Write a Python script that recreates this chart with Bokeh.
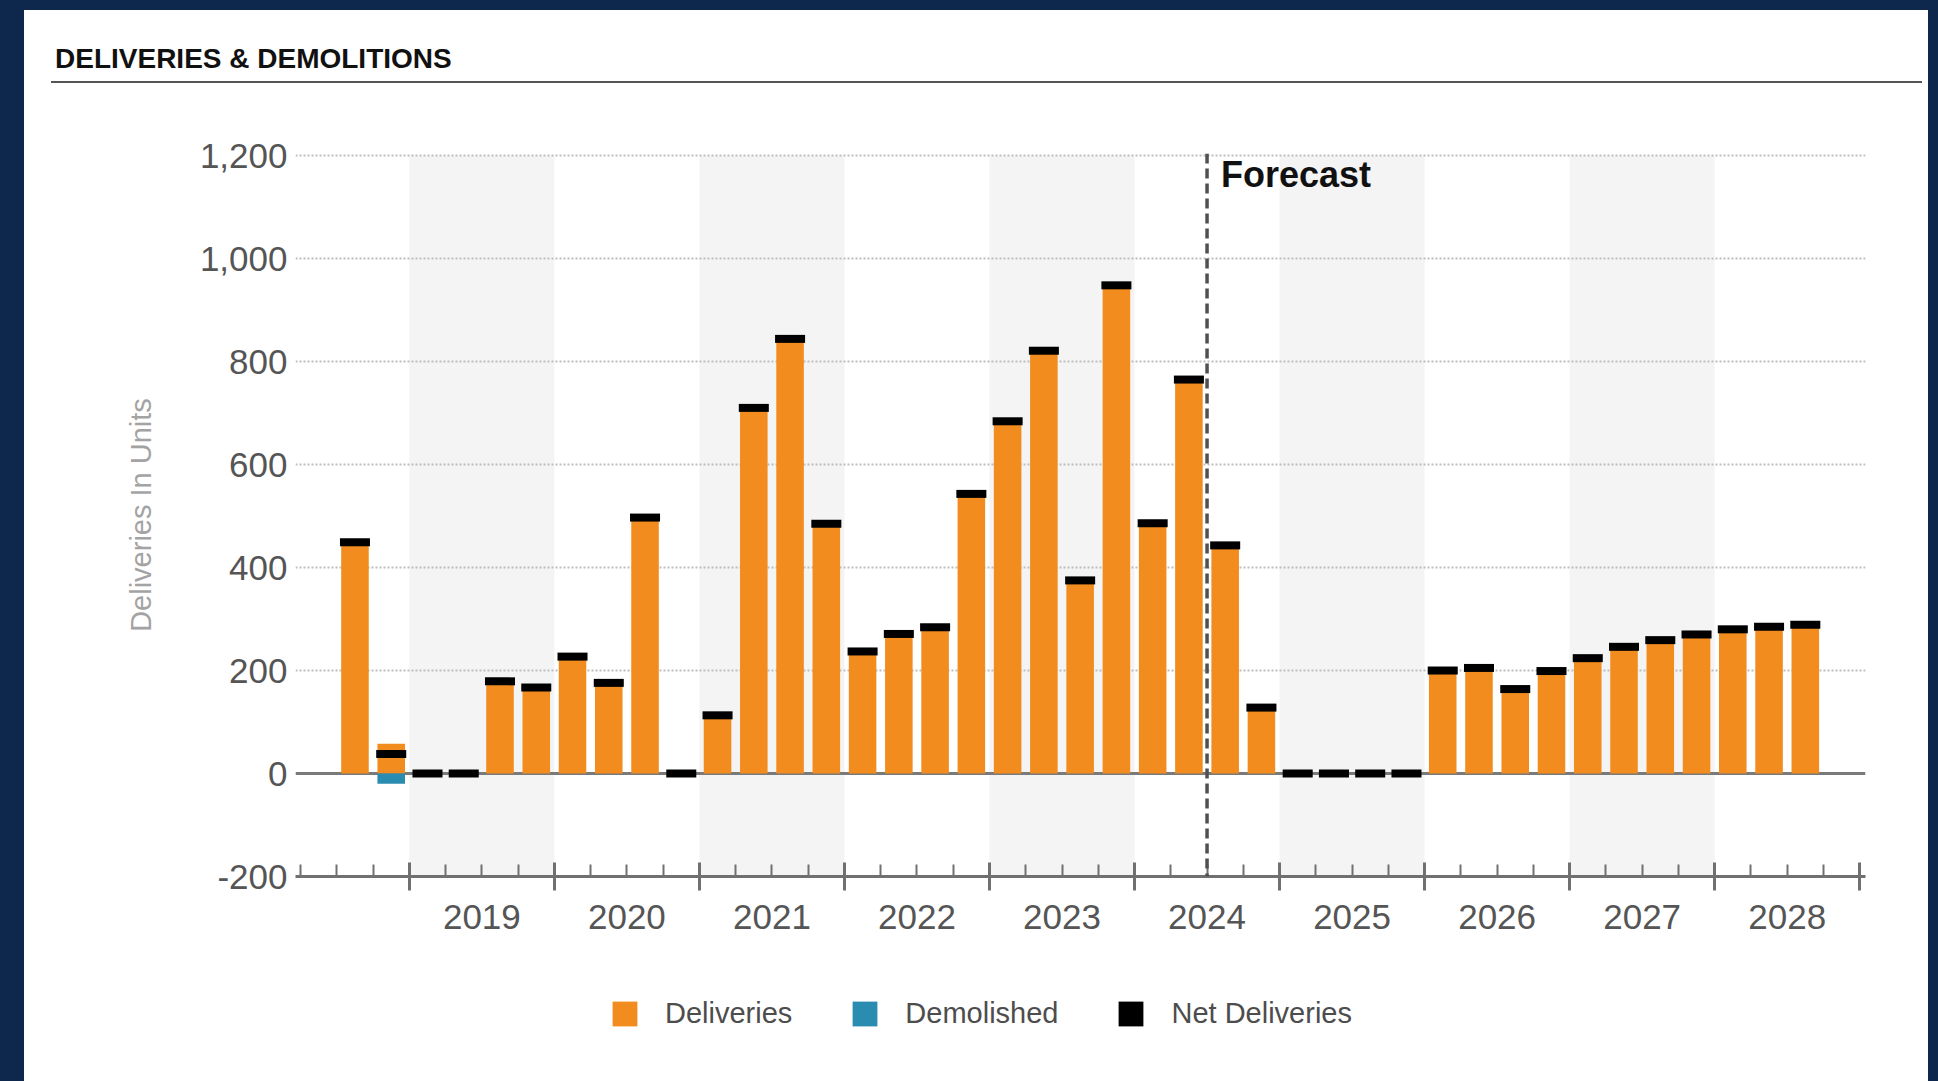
from bokeh.plotting import figure
from bokeh.models import (Range1d, FixedTicker, LinearAxis, NumeralTickFormatter,
                          CustomJSTickFormatter, Span, Label, Legend, LegendItem,
                          ColumnDataSource, Div)
from bokeh.layouts import column
from bokeh.embed import file_html
from bokeh.resources import INLINE

# ---- data -------------------------------------------------------------
quarters = [
    "2018 Q3", "2018 Q4",
    "2019 Q1", "2019 Q2", "2019 Q3", "2019 Q4",
    "2020 Q1", "2020 Q2", "2020 Q3", "2020 Q4",
    "2021 Q1", "2021 Q2", "2021 Q3", "2021 Q4",
    "2022 Q1", "2022 Q2", "2022 Q3", "2022 Q4",
    "2023 Q1", "2023 Q2", "2023 Q3", "2023 Q4",
    "2024 Q1", "2024 Q2", "2024 Q3", "2024 Q4",
    "2025 Q1", "2025 Q2", "2025 Q3", "2025 Q4",
    "2026 Q1", "2026 Q2", "2026 Q3", "2026 Q4",
    "2027 Q1", "2027 Q2", "2027 Q3", "2027 Q4",
    "2028 Q1", "2028 Q2", "2028 Q3",
]
deliveries = [
    449, 58,
    0, 0, 179, 167,
    227, 176, 497, 0,
    113, 710, 844, 485,
    237, 271, 284, 543,
    684, 821, 375, 948,
    486, 765, 443, 128,
    0, 0, 0, 0,
    200, 205, 164, 199,
    224, 246, 259, 270,
    280, 285, 289,
]
demolished = [
    0, -20,
    0, 0, 0, 0,
    0, 0, 0, 0,
    0, 0, 0, 0,
    0, 0, 0, 0,
    0, 0, 0, 0,
    0, 0, 0, 0,
    0, 0, 0, 0,
    0, 0, 0, 0,
    0, 0, 0, 0,
    0, 0, 0,
]
label_years = [2019, 2020, 2021, 2022, 2023, 2024, 2025, 2026, 2027, 2028]
shaded_years = [2019, 2021, 2023, 2025, 2027]
forecast_start = 2024.5
y_ticks = [-200, 0, 200, 400, 600, 800, 1000, 1200]
series_names = ["Deliveries", "Demolished", "Net Deliveries"]
title_text = "DELIVERIES &amp; DEMOLITIONS"

# ---- styling ------------------------------------------------------------
FONT = "Liberation Sans"
NAVY = "#0d274d"
ORANGE = "#f28c1e"
TEAL = "#2a8cb1"
AXIS_GREY = "#707070"
TEXT_GREY = "#555555"

x = [int(q[:4]) + (int(q[-1]) - 0.5) / 4 for q in quarters]
net = [d + m for d, m in zip(deliveries, demolished)]
src = ColumnDataSource(dict(x=x, deliveries=deliveries, demolished=demolished, net=net))

year_bounds = list(range(label_years[0], label_years[-1] + 2))
quarter_bounds = [2018.25, 2018.5, 2018.75] + [
    yr + k / 4 for yr in label_years for k in (1, 2, 3)
]

W = 1904
HDR_H = 90
MAIN_H = 856
LEG_H = 1071 - HDR_H - MAIN_H
BORDER_L = 271
BORDER_R = 63
BORDER_T = 53

# ---- header: title and rule ---------------------------------------------
header = Div(
    text=(
        '<div style="position:relative;width:%dpx;height:%dpx;background:white;">'
        '<div style="position:absolute;left:31px;top:35px;font-family:\'%s\';'
        'font-weight:bold;font-size:28px;line-height:28px;color:#111111;'
        'white-space:nowrap;">%s</div>'
        '<div style="position:absolute;left:27px;top:71px;width:1871px;height:0;'
        'border-top:2.5px solid #555555;"></div></div>'
    ) % (W, HDR_H, FONT, title_text),
    width=W, height=HDR_H, margin=0, styles={"background-color": "white"},
)

# ---- main chart ----------------------------------------------------------
p = figure(width=W, height=MAIN_H,
           x_range=Range1d(2018.215, 2029.04), y_range=Range1d(-200, 1204),
           output_backend="svg", toolbar_location=None, x_axis_type=None,
           min_border_left=BORDER_L, min_border_right=BORDER_R,
           min_border_top=BORDER_T, min_border_bottom=MAIN_H - BORDER_T - 723,
           background_fill_color="white", border_fill_color="white", margin=0)
p.outline_line_color = None
p.styles = {"background-color": "white"}

# alternating year bands
p.quad(left=shaded_years, right=[yr + 1 for yr in shaded_years], bottom=-200,
       top=y_ticks[-1], fill_color="#f4f4f4", line_color=None, level="image")

p.ygrid.ticker = FixedTicker(ticks=[t for t in y_ticks if t > 0])
p.ygrid.grid_line_color = "#bdbdbd"
p.ygrid.grid_line_dash = "2 2"
p.ygrid.grid_line_width = 1.8

p.add_layout(Span(location=0, dimension="width", line_color="#7a7a7a",
                  line_width=3, level="underlay"))

p.vbar(x="x", top="deliveries", bottom=0, width=0.19, source=src,
       fill_color=ORANGE, line_color=None)
p.vbar(x="x", top=0, bottom="demolished", width=0.19, source=src,
       fill_color=TEAL, line_color=None)
p.rect(x="x", y="net", width=0.207, height=8, height_units="screen",
       source=src, fill_color="black", line_color=None)

# forecast divider
p.add_layout(Span(location=forecast_start, dimension="height", line_color="#505050",
                  line_width=3.5, line_dash="10 5"))
p.add_layout(Label(x=forecast_start, y=1163, x_offset=14, text="Forecast",
                   text_font=FONT, text_font_size="36px", text_font_style="bold",
                   text_color="#111111", text_baseline="alphabetic"))

# y axis
ya = p.yaxis[0]
ya.ticker = FixedTicker(ticks=y_ticks)
ya.formatter = NumeralTickFormatter(format="0,0")
ya.axis_line_color = None
ya.major_tick_line_color = None
ya.minor_tick_line_color = None
ya.major_tick_in = 0
ya.major_tick_out = 0
ya.major_label_standoff = 8
ya.major_label_text_font = FONT
ya.major_label_text_font_size = "35px"
ya.major_label_text_color = TEXT_GREY
ya.axis_label = "Deliveries In Units"
ya.axis_label_text_font = FONT
ya.axis_label_text_font_size = "29px"
ya.axis_label_text_font_style = "normal"
ya.axis_label_text_color = "#a3a3a3"
ya.axis_label_standoff = 40

# x axis: quarter / year tick marks
xa = LinearAxis(ticker=FixedTicker(ticks=year_bounds, minor_ticks=quarter_bounds),
                formatter=CustomJSTickFormatter(code="return ''"),
                major_label_text_font_size="0px", major_label_standoff=0,
                axis_line_color=AXIS_GREY, axis_line_width=3,
                major_tick_line_color=AXIS_GREY, major_tick_line_width=3,
                major_tick_in=14, major_tick_out=14,
                minor_tick_line_color=AXIS_GREY, minor_tick_line_width=2,
                minor_tick_in=12, minor_tick_out=0)
p.add_layout(xa, "below")

# x axis: year labels centred in each year
xl = LinearAxis(ticker=FixedTicker(ticks=[yr + 0.5 for yr in label_years]),
                formatter=CustomJSTickFormatter(code="return String(Math.floor(tick))"),
                axis_line_color=None, major_tick_line_color=None,
                minor_tick_line_color=None, major_tick_in=0, major_tick_out=0,
                major_label_standoff=14, major_label_text_font=FONT,
                major_label_text_font_size="35px", major_label_text_color=TEXT_GREY)
p.add_layout(xl, "below")

# ---- legend strip ---------------------------------------------------------
# swatch-only renderers: hidden in the strip, shown through the legend
lg = figure(width=W, height=LEG_H, x_range=Range1d(0, 1), y_range=Range1d(0, 1),
            output_backend="svg", toolbar_location=None, x_axis_type=None,
            y_axis_type=None, min_border_left=BORDER_L, min_border_right=BORDER_R,
            min_border_top=0, min_border_bottom=0, margin=0,
            background_fill_color="white", border_fill_color="white")
lg.outline_line_color = None
lg.styles = {"background-color": "white"}
k_del = lg.vbar(x="x", top="deliveries", bottom=0, width=0.19, source=src,
                fill_color=ORANGE, line_color=None, visible=False)
k_dem = lg.vbar(x="x", top=0, bottom="demolished", width=0.19, source=src,
                fill_color=TEAL, line_color=None, visible=False)
k_net = lg.rect(x="x", y="net", width=0.207, height=8, height_units="screen",
                source=src, fill_color="black", line_color=None, visible=False)

legend = Legend(items=[LegendItem(label=series_names[0], renderers=[k_del]),
                       LegendItem(label=series_names[1], renderers=[k_dem]),
                       LegendItem(label=series_names[2], renderers=[k_net])],
                location=(314, 51), orientation="horizontal",
                glyph_width=31, glyph_height=31, label_standoff=25, spacing=57,
                padding=0, margin=0, border_line_color=None,
                background_fill_alpha=0, inactive_fill_alpha=0,
                label_text_font=FONT, label_text_font_size="29px",
                label_text_color="#4d4d4d")
lg.add_layout(legend)

layout = column(header, p, lg, spacing=0)

html = file_html(layout, INLINE, title="Deliveries & Demolitions")
html = html.replace(
    "</head>",
    "<style>html{background:%s;margin:0;padding:0;overflow:hidden;}"
    "body{margin:0;padding:0;position:absolute;left:24px;top:10px;width:%dpx;"
    "height:1071px;background:white;overflow:hidden;}</style></head>" % (NAVY, W), 1)
open("out.html", "w").write(html)
